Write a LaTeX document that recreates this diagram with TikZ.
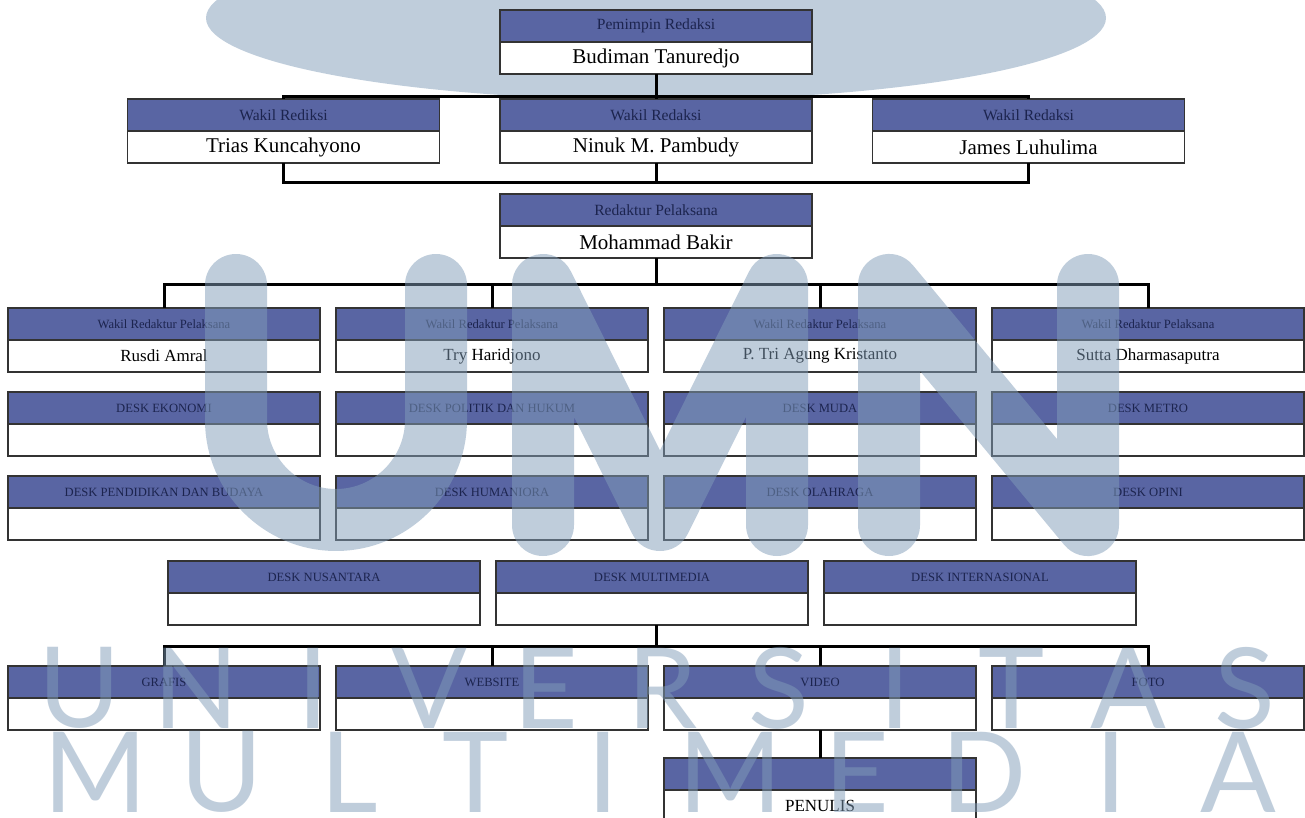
\documentclass[tikz,border=0pt]{standalone}
\usepackage{fontspec}
\setmainfont{Liberation Serif}
\newfontfamily\wmfont{Lato}
\usetikzlibrary{positioning}

\definecolor{headblue}{RGB}{89,101,163}
\definecolor{headink}{RGB}{28,36,78}
\definecolor{wmblue}{RGB}{129,157,185}

\begin{document}
\begin{tikzpicture}[x=0.5pt, y=-0.5pt, node distance=0pt, outer sep=0pt]

            \tikzstyle{head} = [rectangle, draw=black!80, line width=0.7pt, fill=headblue, text=headink,
                minimum width=156pt, minimum height=16pt, inner sep=0pt, font=\fontsize{6.3}{7}\selectfont]
            \tikzstyle{body} = [rectangle, draw=black!80, line width=0.7pt, fill=white,
                minimum width=156pt, minimum height=16pt, inner sep=0pt, font=\fontsize{8.5}{10}\selectfont]
            \tikzstyle{tophead} = [head, font=\fontsize{7.8}{9}\selectfont]
            \tikzstyle{topbody} = [body, font=\fontsize{10.5}{12}\selectfont]
            \tikzstyle{link} = [draw=black, line width=1.5pt]
            \tikzstyle{wmstroke} = [draw=wmblue, opacity=0.5, line width=31pt, line cap=round, line join=round]
            \tikzstyle{wmtext} = [text=wmblue, opacity=0.5, inner sep=0pt, font=\wmfont\fontsize{56}{56}\selectfont]

            \useasboundingbox (0,0) rectangle (1305,818);
            \clip (0,0) rectangle (1305,818);
            \fill[white] (0,0) rectangle (1305,818);

            % watermark, upper band
            \fill[wmblue, opacity=0.5] (656,18) ellipse [x radius=225pt, y radius=41pt];

            % pimpinan
            \node[tophead] (head_top) at (656,26) {Pemimpin Redaksi};
            \node[topbody, below=of head_top] (body_top) {Budiman Tanuredjo};

            \node[tophead] (head_wr1) at (283.5,115) {Wakil Rediksi};
            \node[topbody, below=of head_wr1] (body_wr1) {Trias Kuncahyono};
            \node[tophead] (head_wr2) at (656,115) {Wakil Redaksi};
            \node[topbody, below=of head_wr2] (body_wr2) {Ninuk M. Pambudy};
            \node[tophead] (head_wr3) at (1028.5,115) {Wakil Redaksi};
            \node[topbody, below=of head_wr3] (body_wr3) {James Luhulima};

            \node[tophead] (head_rp) at (656,210) {Redaktur Pelaksana};
            \node[topbody, below=of head_rp] (body_rp) {Mohammad Bakir};

            % wakil redaktur pelaksana
            \node[head] (head_wrp1) at (164,324) {Wakil Redaktur Pelaksana};
            \node[body, below=of head_wrp1] (body_wrp1) {Rusdi Amral};
            \node[head] (head_wrp2) at (492,324) {Wakil Redaktur Pelaksana};
            \node[body, below=of head_wrp2] (body_wrp2) {Try Haridjono};
            \node[head] (head_wrp3) at (820,324) {Wakil Redaktur Pelaksana};
            \node[body, below=of head_wrp3] (body_wrp3) {P. Tri Agung Kristanto};
            \node[head] (head_wrp4) at (1148,324) {Wakil Redaktur Pelaksana};
            \node[body, below=of head_wrp4] (body_wrp4) {Sutta Dharmasaputra};

            % desk
            \node[head] (head_eko) at (164,408) {DESK EKONOMI};
            \node[body, below=of head_eko] (body_eko) {};
            \node[head] (head_pol) at (492,408) {DESK POLITIK DAN HUKUM};
            \node[body, below=of head_pol] (body_pol) {};
            \node[head] (head_muda) at (820,408) {DESK MUDA};
            \node[body, below=of head_muda] (body_muda) {};
            \node[head] (head_metro) at (1148,408) {DESK METRO};
            \node[body, below=of head_metro] (body_metro) {};

            \node[head] (head_dik) at (164,492) {DESK PENDIDIKAN DAN BUDAYA};
            \node[body, below=of head_dik] (body_dik) {};
            \node[head] (head_hum) at (492,492) {DESK HUMANIORA};
            \node[body, below=of head_hum] (body_hum) {};
            \node[head] (head_olah) at (820,492) {DESK OLAHRAGA};
            \node[body, below=of head_olah] (body_olah) {};
            \node[head] (head_opini) at (1148,492) {DESK OPINI};
            \node[body, below=of head_opini] (body_opini) {};

            \node[head] (head_nus) at (324,577) {DESK NUSANTARA};
            \node[body, below=of head_nus] (body_nus) {};
            \node[head] (head_mm) at (652,577) {DESK MULTIMEDIA};
            \node[body, below=of head_mm] (body_mm) {};
            \node[head] (head_int) at (980,577) {DESK INTERNASIONAL};
            \node[body, below=of head_int] (body_int) {};

            % multimedia
            \node[head] (head_grafis) at (164,682) {GRAFIS};
            \node[body, below=of head_grafis] (body_grafis) {};
            \node[head] (head_web) at (492,682) {WEBSITE};
            \node[body, below=of head_web] (body_web) {};
            \node[head] (head_video) at (820,682) {VIDEO};
            \node[body, below=of head_video] (body_video) {};
            \node[head] (head_foto) at (1148,682) {FOTO};
            \node[body, below=of head_foto] (body_foto) {};

            \node[head] (head_pen) at (820,774) {};
            \node[body, below=of head_pen] (body_pen) {PENULIS};

            % connectors
            \coordinate (bus_top) at (656,97);
            \coordinate (bus_wr) at (656,183);
            \coordinate (bus_rp) at (656,284);
            \coordinate (bus_mm) at (656,646);

            \draw[link] (body_top.south) -- (bus_top);
            \draw[link] (head_wr1.north) |- (bus_top) -| (head_wr3.north);
            \draw[link] (bus_top) -- (head_wr2.north);

            \draw[link] (body_wr1.south) |- (bus_wr) -| (body_wr3.south);
            \draw[link] (body_wr2.south) -- (bus_wr);

            \draw[link] (body_rp.south) -- (bus_rp);
            \draw[link] (head_wrp1.north) |- (bus_rp) -| (head_wrp4.north);
            \draw[link] (head_wrp2.north) |- (bus_rp);
            \draw[link] (head_wrp3.north) |- (bus_rp);

            \draw[link] (body_mm.south -| bus_mm) -- (bus_mm);
            \draw[link] (head_grafis.north) |- (bus_mm) -| (head_foto.north);
            \draw[link] (head_web.north) |- (bus_mm);
            \draw[link] (head_video.north) |- (bus_mm);

            \draw[link] (body_video.south) -- (head_pen.north);

            % watermark, letters
            \draw[wmstroke] (236,285) -- (236,420) .. controls (236,475) and (281,520) .. (336,520)
                .. controls (391,520) and (436,475) .. (436,420) -- (436,285);
            \draw[wmstroke] (543,525) -- (543,285) -- (660,520) -- (777,285) -- (777,525);
            \draw[wmstroke] (889,525) -- (889,285) -- (1088,525) -- (1088,285);

            \foreach \ch [count=\i from 0] in {U,N,I,V,E,R,S,I,T,A,S}
                \node[wmtext] (wm_univ_\i) at (80+116.5*\i,688) {\ch};
            \foreach \ch [count=\i from 0] in {M,U,L,T,I,M,E,D,I,A}
                \node[wmtext] (wm_mult_\i) at (95+127*\i,772) {\ch};
       \end{tikzpicture}
\end{document}
